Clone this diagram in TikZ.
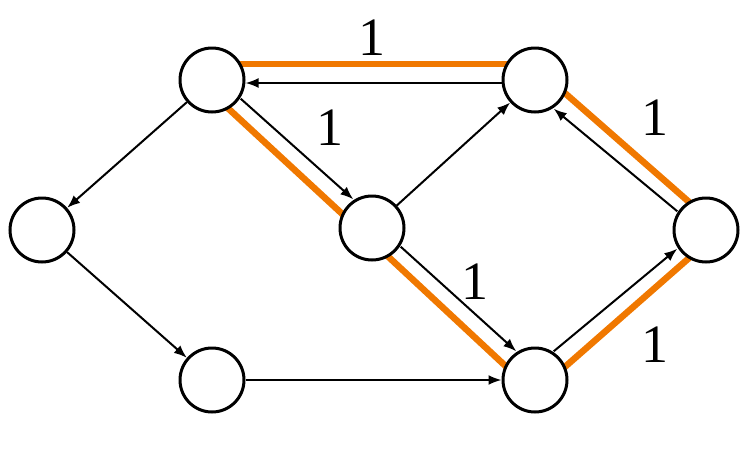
\documentclass[tikz,border=0pt]{standalone}
\usepackage{fontspec}
\setmainfont{Liberation Serif}
\usetikzlibrary{arrows.meta}
\begin{document}
\begin{tikzpicture}[x=1pt,y=-1pt,
  vtx/.style={circle,draw,line width=3pt,fill=white,minimum size=64pt,inner sep=0pt},
  arr/.style={-{Latex[length=13pt,width=10pt]},line width=2pt},
  hl/.style={draw={rgb,255:red,240;green,120;blue,0},line width=6.5pt},
  lbl/.style={font=\fontsize{54}{58}\selectfont}]
\useasboundingbox (0,0) rectangle (747,461);
\coordinate (a) at (212,80); \coordinate (b) at (535,80);
\coordinate (c) at (42,230); \coordinate (d) at (372,228);
\coordinate (e) at (706,230); \coordinate (f) at (212,380);
\coordinate (g) at (535,380);
% orange highlights
\draw[hl] ([yshift=16pt]a) -- ([yshift=16pt]b);
\draw[hl] ([shift={(-7pt,-7pt)}]a) -- ([shift={(-7pt,-7pt)}]d) -- ([shift={(-7pt,-7pt)}]g);
\draw[hl] ([shift={(7pt,-7pt)}]g) -- ([shift={(7pt,-7pt)}]e);
\draw[hl] ([shift={(7pt,7pt)}]e) -- ([shift={(7pt,7pt)}]b);
\node[vtx] (A) at (a) {}; \node[vtx] (B) at (b) {};
\node[vtx] (C) at (c) {}; \node[vtx] (D) at (d) {};
\node[vtx] (E) at (e) {}; \node[vtx] (F) at (f) {};
\node[vtx] (G) at (g) {};
\draw[arr] (A) -- (C);
\draw[arr] (C) -- (F);
\draw[arr] (F) -- (G);
\draw[arr] (D) -- (B);
\draw[arr] ([yshift=-3pt]B.west) -- ([yshift=-3pt]A.east);
\draw[arr] ([shift={(5pt,5pt)}]A.south east) -- ([shift={(5pt,5pt)}]D.north west);
\draw[arr] ([shift={(5pt,5pt)}]D.south east) -- ([shift={(5pt,5pt)}]G.north west);
\draw[arr] ([shift={(-5pt,5pt)}]G.north east) -- ([shift={(-5pt,5pt)}]E.south west);
\draw[arr] ([shift={(-5pt,-5pt)}]E.north west) -- ([shift={(-5pt,-5pt)}]B.south east);
\node[lbl] (l1) at (372,38) {1};
\node[lbl] (l2) at (330,128) {1};
\node[lbl] (l3) at (475,282) {1};
\node[lbl] (l4) at (655,118) {1};
\node[lbl] (l5) at (655,345) {1};
\end{tikzpicture}
\end{document}
